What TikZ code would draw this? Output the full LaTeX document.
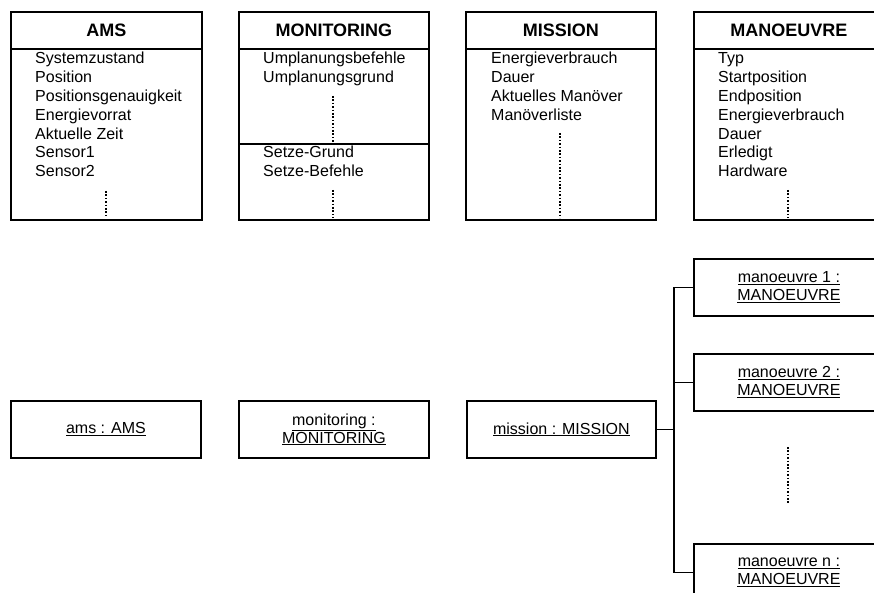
\documentclass[tikz,border=0pt]{standalone}
\usepackage{fontspec}
\setmainfont{Liberation Sans}
\begin{document}
\begin{tikzpicture}[x=1pt,y=-1pt,
  frame/.style={draw, line width=1.8pt, inner sep=0pt},
  classbox/.style={frame, minimum height=208pt, anchor=north west},
  classname/.style={font=\fontsize{18}{20}\bfseries, inner sep=0pt},
  attr/.style={anchor=base west, inner sep=0pt, font=\fontsize{16}{18.8}\selectfont},
  objbox/.style={frame, minimum height=57pt, anchor=north west, align=center,
    font=\fontsize{16}{18}\selectfont},
  rule/.style={line width=1.6pt},
  link/.style={line width=1.6pt},
  dotline/.style={line width=1.8pt, dash pattern=on 1.6pt off 1.8pt}
]
\useasboundingbox (0,0) rectangle (874,593);
\clip (0,0) rectangle (874,593);

% ---------------- class boxes ----------------
\node[classbox, minimum width=191pt] (ams) at (10,11) {};
\node[classbox, minimum width=190pt] (mon) at (238,11) {};
\node[classbox, minimum width=190pt] (mis) at (465,11) {};
\node[classbox, minimum width=190pt] (man) at (693,11) {};

\foreach \b in {ams,mon,mis,man}
  \draw[rule] (\b.west |- 0,49) -- (\b.east |- 0,49);
\draw[rule] (mon.west |- 0,144) -- (mon.east |- 0,144);

\node[classname] (amsT) at (ams.center |- 0,30) {AMS};
\node[classname] (monT) at (mon.center |- 0,30) {MONITORING};
\node[classname] (misT) at (mis.center |- 0,30) {MISSION};
\node[classname] (manT) at (man.center |- 0,30) {MANOEUVRE};

% attributes
\foreach \t [count=\i] in {Systemzustand, Position, Positionsgenauigkeit,
    Energievorrat, Aktuelle Zeit, Sensor1, Sensor2}
  \node[attr] (amsA\i) at (35,{64+18.8*(\i-1)}) {\t};
\foreach \t [count=\i] in {Umplanungsbefehle, Umplanungsgrund}
  \node[attr] (monA\i) at (263,{64+18.8*(\i-1)}) {\t};
\foreach \t [count=\i] in {Setze-Grund, Setze-Befehle}
  \node[attr] (monB\i) at (263,{158+18.8*(\i-1)}) {\t};
\foreach \t [count=\i] in {Energieverbrauch, Dauer, Aktuelles Manöver, Manöverliste}
  \node[attr] (misA\i) at (491,{64+18.8*(\i-1)}) {\t};
\foreach \t [count=\i] in {Typ, Startposition, Endposition, Energieverbrauch,
    Dauer, Erledigt, Hardware}
  \node[attr] (manA\i) at (718,{64+18.8*(\i-1)}) {\t};

% continuation marks
\draw[dotline] (106,191) -- (106,218);
\draw[dotline] (333,96) -- (333,142);
\draw[dotline] (333,190) -- (333,218);
\draw[dotline] (560,133) -- (560,218);
\draw[dotline] (788,190) -- (788,218);

% ---------------- object boxes ----------------
\node[objbox, minimum width=190pt] (amsO) at (10,400) {\underline{ams : AMS}};
\node[objbox, minimum width=190pt] (monO) at (238,400)
  {\underline{monitoring :}\\\underline{MONITORING}};
\node[objbox, minimum width=189pt] (misO) at (466,400) {\underline{mission : MISSION}};

\node[objbox, minimum width=190pt] (m1) at (693,258)
  {\underline{manoeuvre 1 :}\\\underline{MANOEUVRE}};
\node[objbox, minimum width=190pt] (m2) at (693,353)
  {\underline{manoeuvre 2 :}\\\underline{MANOEUVRE}};
\node[objbox, minimum width=190pt] (mn) at (693,543)
  {\underline{manoeuvre n :}\\\underline{MANOEUVRE}};

\draw[dotline] (788,447) -- (788,503);

% links from mission to its manoeuvres
\coordinate (j) at (674,429);
\draw[link] (misO.east) -- (j |- misO.east);
\draw[link] (m1.west) -| (j) |- (mn.west);
\draw[link] (m2.west) -- (j |- m2.west);
\end{tikzpicture}
\end{document}
